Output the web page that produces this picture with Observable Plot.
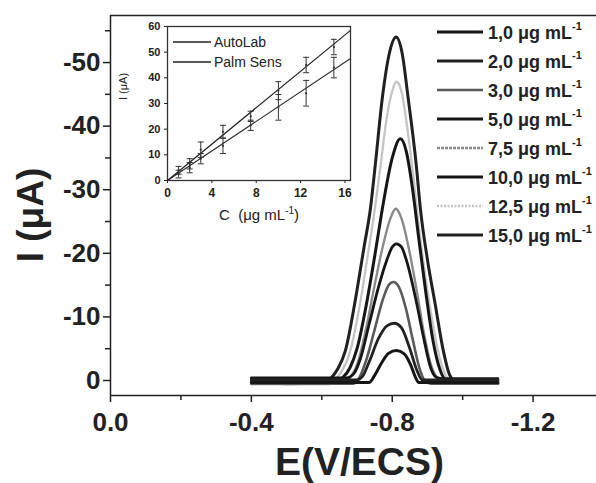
<!DOCTYPE html>
<html><head><meta charset="utf-8">
<script src="https://cdn.jsdelivr.net/npm/d3@7"></script>
<script src="https://cdn.jsdelivr.net/npm/@observablehq/plot@0.6"></script>
<style>body{margin:0;background:#fff} #chart{width:596px;height:483px;overflow:hidden;position:relative}</style>
</head><body><div id="chart"></div>
<script>
// ---------- DATA ----------
const concLabels = ["1,0", "2,0", "3,0", "5,0", "7,5", "10,0", "12,5", "15,0"];
// voltammograms: [E (V/ECS), I (µA)]
const c1 = [[-0.40,0.3],[-0.735,0.3],[-0.75,-0.8],[-0.77,-2.8],[-0.79,-4.3],[-0.812,-4.7],[-0.834,-4.2],[-0.852,-2.5],[-0.866,-0.5],[-0.875,0.3],[-1.10,0.3]];
const c2 = [[-0.40,-0.1],[-0.70,-0.1],[-0.715,-0.6],[-0.735,-3],[-0.76,-6.5],[-0.785,-8.6],[-0.806,-9],[-0.826,-8.3],[-0.85,-5],[-0.87,-1.6],[-0.885,-0.1],[-1.10,-0.1]];
const c3 = [[-0.40,0.5],[-0.69,0.5],[-0.705,-0.3],[-0.725,-3],[-0.75,-8],[-0.772,-12.5],[-0.79,-15],[-0.803,-15.5],[-0.818,-14.8],[-0.838,-11.5],[-0.858,-6.5],[-0.876,-2.2],[-0.892,0],[-0.91,0.5],[-1.10,0.5]];
const c5 = [[-0.40,-0.4],[-0.67,-0.4],[-0.69,-1],[-0.71,-3.5],[-0.735,-9],[-0.76,-14.5],[-0.785,-19],[-0.80,-21],[-0.812,-21.5],[-0.826,-21],[-0.845,-18],[-0.868,-12.5],[-0.89,-6.5],[-0.908,-2.2],[-0.925,-0.5],[-0.94,-0.3],[-1.10,-0.3]];
const c7 = [[-0.40,0.2],[-0.66,0.2],[-0.68,-0.5],[-0.70,-2.5],[-0.725,-8],[-0.75,-15],[-0.775,-21.5],[-0.795,-25.5],[-0.81,-27],[-0.826,-25.5],[-0.848,-20.5],[-0.87,-14],[-0.89,-7.5],[-0.91,-2.5],[-0.93,-0.3],[-0.95,0.3],[-1.10,0.3]];
const c10 = [[-0.40,0],[-0.64,0],[-0.66,-0.5],[-0.68,-2],[-0.70,-5],[-0.725,-11.5],[-0.75,-19.5],[-0.775,-28],[-0.80,-35],[-0.823,-38],[-0.84,-36],[-0.858,-30],[-0.875,-22.5],[-0.895,-14],[-0.915,-6.5],[-0.935,-1.8],[-0.955,0],[-1.10,0]];
const c12 = [[-0.40,0.6],[-0.62,0.6],[-0.64,-0.3],[-0.66,-1.8],[-0.68,-4.5],[-0.705,-11],[-0.73,-19.5],[-0.748,-26],[-0.765,-33],[-0.785,-41.5],[-0.80,-45.5],[-0.812,-47],[-0.826,-45.5],[-0.842,-40],[-0.86,-32],[-0.875,-24.5],[-0.895,-16],[-0.915,-9],[-0.935,-3.5],[-0.952,-0.8],[-0.97,0.4],[-1.10,0.4]];
const c15 = [[-0.40,0.3],[-0.50,0.5],[-0.60,0.4],[-0.625,-0.3],[-0.645,-1.8],[-0.667,-4.7],[-0.695,-12.6],[-0.72,-21],[-0.738,-27],[-0.752,-34],[-0.772,-44.5],[-0.792,-51.5],[-0.811,-54],[-0.828,-51.5],[-0.845,-44.5],[-0.868,-34],[-0.88,-27],[-0.90,-19],[-0.922,-12],[-0.945,-4.7],[-0.962,-1],[-0.98,0.2],[-1.00,0.4],[-1.10,0.4]];
const curves = [c1, c2, c3, c5, c7, c10, c12, c15];

const xTicks = [0, -0.4, -0.8, -1.2];
const xMinor = [-0.2, -0.6, -1.0];
const yTicks = [0, -10, -20, -30, -40, -50];
const yMinor = [-5, -15, -25, -35, -45, -55];

// inset calibration data
const conc = [1, 2, 3, 5, 7.5, 10, 12.5, 15];
const autoLab = [4, 6.5, 12, 19, 25, 35, 45, 52];
const autoErr = [1.5, 2, 3, 2.5, 2, 3.5, 3, 3];
const palmSens = [2.5, 5, 8.5, 13.5, 21.5, 28.5, 34, 44];
const palmErr = [1.5, 2, 2, 3, 2, 5, 5, 4];
const fitC = [0, 16.5];
const autoFit = [0, 58.5];
const palmFit = [0, 47.5];
const insetXTicks = [0, 4, 8, 12, 16];
const insetYTicks = [0, 10, 20, 30, 40, 50, 60];

// ---------- STYLES ----------
const FONT = "'Liberation Sans', Arial, Helvetica, sans-serif";
const styles = [
  {stroke: "#161616", width: 3.0},
  {stroke: "#222222", width: 2.8},
  {stroke: "#5a5a5a", width: 2.6},
  {stroke: "#161616", width: 2.8},
  {stroke: "#8a8a8a", width: 2.4, dash: "3,1"},
  {stroke: "#161616", width: 3.0},
  {stroke: "#c4c4c4", width: 2.4, dash: "2,1.5"},
  {stroke: "#202020", width: 3.0}
];
const drawOrder = [7, 6, 5, 4, 3, 2, 1, 0];
const xDomain = [0, -1.38];
const yDomain = [2.36, -57.4];

const main = Plot.plot({
  width: 596, height: 483,
  marginLeft: 110, marginRight: 0, marginTop: 15, marginBottom: 88,
  style: {fontFamily: FONT, background: "white", color: "#222"},
  x: {domain: xDomain},
  y: {domain: yDomain},
  marks: [
    ...drawOrder.map(i => Plot.line(curves[i], {
      x: d => d[0], y: d => d[1], stroke: styles[i].stroke,
      strokeWidth: styles[i].width, strokeDasharray: styles[i].dash, curve: "monotone-x"
    })),
    Plot.ruleX([xDomain[0]], {stroke: "#222", strokeWidth: 1.5}),
    Plot.ruleY([yDomain[0]], {stroke: "#222", strokeWidth: 1.5}),
    Plot.ruleY([yDomain[1]], {stroke: "#222", strokeWidth: 1.5}),
    Plot.axisX({ticks: xTicks, tickFormat: d => d.toFixed(1), tickSize: 7, tickPadding: 10,
      fontSize: 26, fontWeight: "bold", label: null, strokeWidth: 1.5}),
    Plot.axisX({ticks: xMinor, tickFormat: () => "", tickSize: 5, label: null, strokeWidth: 1.5}),
    Plot.axisY({ticks: yTicks, tickFormat: d => String(d), tickSize: 7, tickPadding: 3,
      fontSize: 26, fontWeight: "bold", label: null, strokeWidth: 1.5}),
    Plot.axisY({ticks: yMinor, tickFormat: () => "", tickSize: 5, label: null, strokeWidth: 1.5}),
    Plot.text(["E(V/ECS)"], {frameAnchor: "bottom", lineAnchor: "bottom", textAnchor: "middle", dy: 79, dx: 6,
      fontSize: 39, fontWeight: "bold", fill: "#222"}),
    Plot.text(["I (μA)"], {frameAnchor: "left", lineAnchor: "bottom", textAnchor: "middle", rotate: -90, dx: -68, dy: 9.5,
      fontSize: 37, fontWeight: "bold", fill: "#222"})
  ]
});
document.getElementById("chart").appendChild(main);

// ---------- INSET ----------
const pts = (vals, errs) => conc.map((c, i) => ({c, v: vals[i], e: errs[i]}));
const autoPts = pts(autoLab, autoErr);
const palmPts = pts(palmSens, palmErr);
const fitPts = fitC.map((c, i) => ({c, a: autoFit[i], p: palmFit[i]}));
const errMarks = (data) => [
  Plot.ruleX(data, {x: "c", y1: d => d.v - d.e, y2: d => d.v + d.e, stroke: "#333", strokeWidth: 1}),
  Plot.link(data, {x1: d => d.c - 0.27, x2: d => d.c + 0.27, y1: d => d.v + d.e, y2: d => d.v + d.e, stroke: "#333", strokeWidth: 1}),
  Plot.link(data, {x1: d => d.c - 0.27, x2: d => d.c + 0.27, y1: d => d.v - d.e, y2: d => d.v - d.e, stroke: "#333", strokeWidth: 1}),
  Plot.dot(data, {x: "c", y: "v", r: 1.1, fill: "#333", stroke: "none"})
];
const inset = Plot.plot({
  width: 248, height: 215,
  marginLeft: 55, marginRight: 10, marginTop: 10, marginBottom: 51,
  style: {fontFamily: FONT, background: "white", color: "#222"},
  x: {domain: [0, 16.5]},
  y: {domain: [0, 60]},
  marks: [
    Plot.line(fitPts, {x: "c", y: "a", stroke: "#222", strokeWidth: 1.2}),
    Plot.line(fitPts, {x: "c", y: "p", stroke: "#333", strokeWidth: 1.2}),
    ...errMarks(autoPts),
    ...errMarks(palmPts),
    Plot.frame({stroke: "#333", strokeWidth: 1.3}),
    Plot.axisX({ticks: insetXTicks, tickSize: 3, tickPadding: 5, fontSize: 12, fontWeight: "bold", label: null}),
    Plot.axisY({ticks: insetYTicks, tickSize: 3, tickPadding: 4, fontSize: 11, fontWeight: "bold", label: null}),
    Plot.text(["I (μA)"], {frameAnchor: "left", textAnchor: "middle", lineAnchor: "middle", rotate: -90, dx: -44, dy: -17, fontSize: 11, fill: "#222"})
  ]
});
inset.setAttribute("x", 112);
inset.setAttribute("y", 16);
inset.style.width = "248px";
inset.style.height = "215px";
inset.style.maxWidth = "none";
main.appendChild(inset);

// ---------- annotations with superscripts ----------
const svg = d3.select(main);
// inset x label
const xl = svg.append("text").attr("x", 259).attr("y", 220).attr("text-anchor", "middle")
  .attr("font-family", FONT).attr("font-size", 15).attr("fill", "#222");
xl.append("tspan").text("C  (μg mL");
xl.append("tspan").attr("dy", -6).attr("font-size", 10).text("-1");
xl.append("tspan").attr("dy", 6).text(")");

// inset legend
const insetLegend = [{name: "AutoLab", y: 42}, {name: "Palm Sens", y: 62}];
insetLegend.forEach(d => {
  svg.append("line").attr("x1", 173).attr("x2", 211).attr("y1", d.y).attr("y2", d.y)
    .attr("stroke", "#222").attr("stroke-width", 1.3);
  svg.append("text").attr("x", 214).attr("y", d.y + 5).attr("text-anchor", "start").attr("font-family", FONT)
    .attr("font-size", 14).attr("fill", "#222").text(d.name);
});

// main legend
concLabels.forEach((lab, i) => {
  const y = 32 + 29 * i;
  const s = styles[i];
  svg.append("line").attr("x1", 437).attr("x2", 483).attr("y1", y).attr("y2", y)
    .attr("stroke", s.stroke).attr("stroke-width", s.width).attr("stroke-dasharray", s.dash || null);
  const t = svg.append("text").attr("x", 488).attr("y", y + 6.5).attr("text-anchor", "start").attr("font-family", FONT)
    .attr("font-size", 18).attr("font-weight", "bold").attr("fill", "#222");
  t.append("tspan").text(lab + " μg mL");
  t.append("tspan").attr("dy", -9).attr("font-size", 11).text("-1");
});
</script></body></html>
